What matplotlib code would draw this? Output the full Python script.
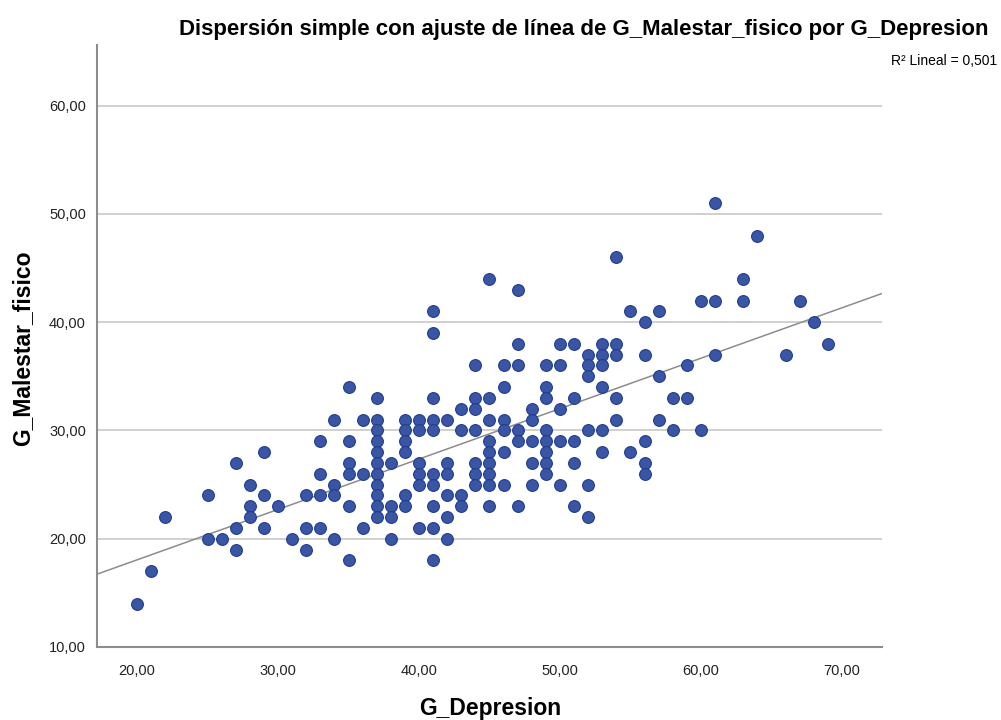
import numpy as np
import matplotlib
matplotlib.use("Agg")
import matplotlib.pyplot as plt
from matplotlib.ticker import FuncFormatter

plt.rcParams['font.family'] = ['Liberation Sans', 'DejaVu Sans']

# G_Depresion value -> list of G_Malestar_fisico values
columns = {
    20: [14],
    21: [17],
    22: [22],
    25: [24, 20],
    26: [20],
    27: [27, 21, 19],
    28: [25, 23, 22],
    29: [28, 24, 21],
    30: [23],
    31: [20],
    32: [24, 21, 19],
    33: [29, 26, 24, 21],
    34: [31, 25, 24, 20],
    35: [34, 29, 27, 26, 23, 18],
    36: [31, 26, 21],
    37: [33, 31, 30, 29, 28, 27, 26, 25, 24, 23, 22],
    38: [27, 23, 22, 20],
    39: [31, 30, 29, 28, 24, 23],
    40: [31, 30, 27, 26, 25, 21],
    41: [41, 39, 33, 31, 30, 26, 25, 23, 21, 18],
    42: [31, 27, 26, 24, 22, 20],
    43: [32, 30, 24, 23],
    44: [36, 33, 32, 30, 27, 26, 25],
    45: [44, 33, 31, 29, 28, 27, 26, 25, 23],
    46: [36, 34, 31, 30, 28, 25],
    47: [43, 38, 36, 30, 29, 23],
    48: [32, 31, 29, 27, 25],
    49: [36, 34, 33, 30, 29, 28, 27, 26],
    50: [38, 36, 32, 29, 25],
    51: [38, 33, 29, 27, 23],
    52: [37, 36, 35, 30, 25, 22],
    53: [38, 37, 36, 34, 30, 28],
    54: [46, 38, 37, 33, 31],
    55: [41, 28],
    56: [40, 37, 29, 27, 26],
    57: [41, 35, 31],
    58: [33, 30],
    59: [36, 33],
    60: [42, 30],
    61: [51, 42, 37],
    63: [44, 42],
    64: [48],
    66: [37],
    67: [42],
    68: [40],
    69: [38],
}

depresion = np.array([x for x, ys in columns.items() for _ in ys], dtype=float)
malestar = np.array([y for ys in columns.values() for y in ys], dtype=float)

x_ticks = [20, 30, 40, 50, 60, 70]
y_ticks = [10, 20, 30, 40, 50, 60]
r2_text = "R² Lineal = 0,501"

fig = plt.figure(figsize=(10.01, 7.2), dpi=100)
ax = fig.add_axes([97 / 1001, 1 - 647 / 720, 785 / 1001, 602 / 720])

xmin, xmax = 17.16, 72.84
ax.set_xlim(xmin, xmax)
ax.set_ylim(10, 65.6)

for y in y_ticks[1:]:
    ax.axhline(y, color='#c8c8c8', lw=1.2, zorder=1)

# fit line
slope, intercept = np.polyfit(depresion, malestar, 1)
xs = np.array([xmin, xmax])
ax.plot(xs, intercept + slope * xs, color='#8c8c8c', lw=1.1, zorder=2)

ax.scatter(depresion, malestar, s=72, color='#3a55a4', edgecolors='#1f3c8f',
           linewidths=0.8, zorder=3)

for side in ['top', 'right']:
    ax.spines[side].set_visible(False)
for side in ['left', 'bottom']:
    ax.spines[side].set_color('#8c8c8c')
    ax.spines[side].set_linewidth(1.5)

fmt = FuncFormatter(lambda v, p: ('%.2f' % v).replace('.', ','))
ax.set_xticks(x_ticks)
ax.set_yticks(y_ticks)
ax.xaxis.set_major_formatter(fmt)
ax.yaxis.set_major_formatter(fmt)
ax.tick_params(length=0, labelsize=10.5, colors='#222222')
ax.tick_params(axis='x', pad=12)
ax.tick_params(axis='y', pad=8)

ax.set_xlabel('G_Depresion', fontsize=16.5, fontweight='bold')
ax.set_ylabel('G_Malestar_fisico', fontsize=16.5, fontweight='bold')
ax.xaxis.set_label_coords((490 - 97) / 785, (647 - 697) / 602)
ax.yaxis.set_label_coords((34 - 97) / 785, (647 - 348) / 602)

fig.text(584 / 1001, 1 - 29 / 720, 'Dispersión simple con ajuste de línea de G_Malestar_fisico por G_Depresion',
         ha='center', va='center', fontsize=16, fontweight='bold')
fig.text(997 / 1001, 1 - 61 / 720, r2_text, ha='right', va='center', fontsize=10)

fig.savefig('out.png', dpi=100, facecolor='white')
